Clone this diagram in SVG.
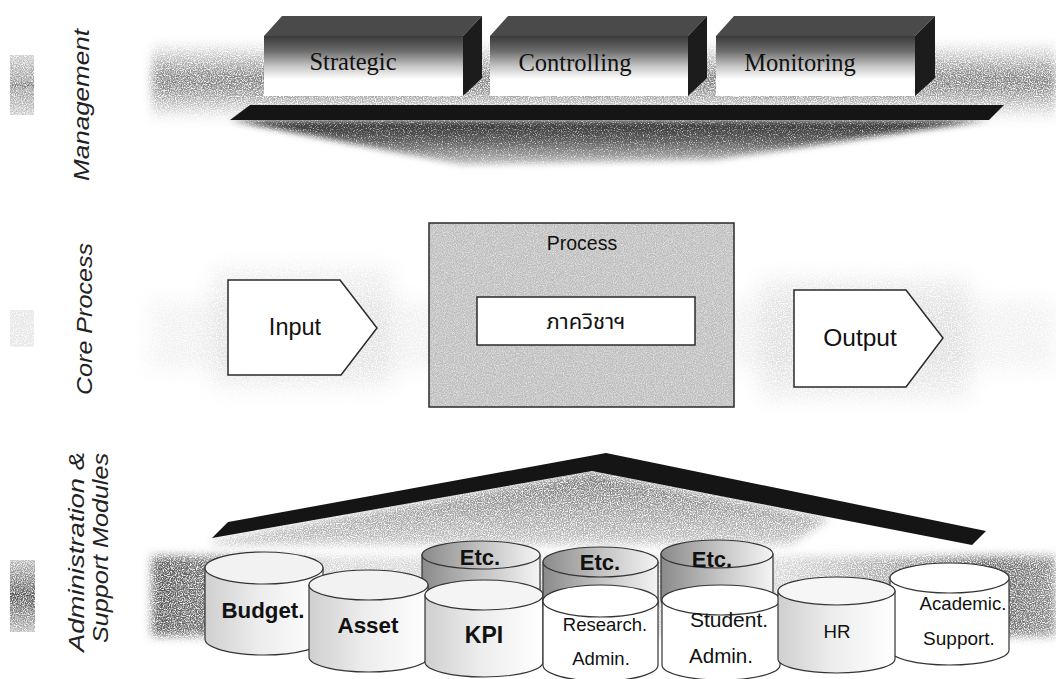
<svg xmlns="http://www.w3.org/2000/svg" width="1056" height="679" viewBox="0 0 1056 679">
<defs>
  <filter id="fuzz" filterUnits="userSpaceOnUse" x="0" y="0" width="1056" height="679">
    <feGaussianBlur in="SourceGraphic" stdDeviation="5" result="b"/>
    <feTurbulence type="fractalNoise" baseFrequency="0.85" numOctaves="2" seed="5" result="t"/>
    <feColorMatrix in="t" type="matrix" values="0 0 0 0 0  0 0 0 0 0  0 0 0 0 0  -2.6 0 0 0 2.0" result="m"/>
    <feComposite in="b" in2="m" operator="in"/>
  </filter>
  <filter id="fuzzDark" filterUnits="userSpaceOnUse" x="0" y="0" width="1056" height="679">
    <feGaussianBlur in="SourceGraphic" stdDeviation="3" result="b"/>
    <feTurbulence type="fractalNoise" baseFrequency="0.85" numOctaves="2" seed="7" result="t"/>
    <feColorMatrix in="t" type="matrix" values="0 0 0 0 0  0 0 0 0 0  0 0 0 0 0  -2.2 0 0 0 2.1" result="m"/>
    <feComposite in="b" in2="m" operator="in"/>
  </filter>
  <filter id="soft" filterUnits="userSpaceOnUse" x="0" y="0" width="1056" height="679">
    <feGaussianBlur in="SourceGraphic" stdDeviation="10" result="b"/>
    <feTurbulence type="fractalNoise" baseFrequency="0.8" numOctaves="2" seed="11" result="t"/>
    <feColorMatrix in="t" type="matrix" values="0 0 0 0 0  0 0 0 0 0  0 0 0 0 0  -2.6 0 0 0 2.0" result="m"/>
    <feComposite in="b" in2="m" operator="in"/>
  </filter>
  <filter id="grain" x="0" y="0" width="100%" height="100%">
    <feTurbulence type="fractalNoise" baseFrequency="0.9" numOctaves="2" seed="9" result="t"/>
    <feColorMatrix in="t" type="matrix" values="0 0 0 0 0  0 0 0 0 0  0 0 0 0 0  -2.4 0 0 0 1.9" result="m"/>
    <feComposite in="SourceGraphic" in2="m" operator="in"/>
  </filter>
  <linearGradient id="bandV" x1="0" y1="0" x2="0" y2="1">
    <stop offset="0" stop-color="#bbb" stop-opacity="0"/>
    <stop offset="0.3" stop-color="#a8a8a8"/>
    <stop offset="0.5" stop-color="#767676"/>
    <stop offset="0.7" stop-color="#a8a8a8"/>
    <stop offset="1" stop-color="#bbb" stop-opacity="0"/>
  </linearGradient>
  <linearGradient id="adminH" x1="0" y1="0" x2="1" y2="0">
    <stop offset="0" stop-color="#555"/>
    <stop offset="0.08" stop-color="#777"/>
    <stop offset="0.2" stop-color="#bbb" stop-opacity="0.6"/>
    <stop offset="0.7" stop-color="#bbb" stop-opacity="0.6"/>
    <stop offset="0.93" stop-color="#666"/>
    <stop offset="1" stop-color="#888"/>
  </linearGradient>
  <linearGradient id="boxFront" x1="0" y1="0" x2="0" y2="1">
    <stop offset="0" stop-color="#3a3a3a"/>
    <stop offset="0.25" stop-color="#6c6c6c"/>
    <stop offset="0.5" stop-color="#c4c4c4"/>
    <stop offset="0.72" stop-color="#fff"/>
    <stop offset="1" stop-color="#fff"/>
  </linearGradient>
  <linearGradient id="funnel" gradientUnits="userSpaceOnUse" x1="0" y1="120" x2="0" y2="166">
    <stop offset="0" stop-color="#2e2e2e"/>
    <stop offset="0.45" stop-color="#5e5e5e"/>
    <stop offset="1" stop-color="#c8c8c8"/>
  </linearGradient>
  <linearGradient id="roofShade" gradientUnits="userSpaceOnUse" x1="0" y1="470" x2="0" y2="545">
    <stop offset="0" stop-color="#707070"/>
    <stop offset="1" stop-color="#c4c4c4"/>
  </linearGradient>
  <linearGradient id="cylSide" x1="0" y1="0" x2="1" y2="0">
    <stop offset="0" stop-color="#cfcfcf"/>
    <stop offset="0.45" stop-color="#ececec"/>
    <stop offset="1" stop-color="#fff"/>
  </linearGradient>
  <linearGradient id="etcSide" x1="0" y1="0" x2="1" y2="0">
    <stop offset="0" stop-color="#8a8a8a"/>
    <stop offset="0.5" stop-color="#c2c2c2"/>
    <stop offset="1" stop-color="#f4f4f4"/>
  </linearGradient>
  <linearGradient id="markV" x1="0" y1="0" x2="0" y2="1">
    <stop offset="0" stop-color="#ccc"/>
    <stop offset="0.45" stop-color="#999"/>
    <stop offset="0.5" stop-color="#777"/>
    <stop offset="0.55" stop-color="#999"/>
    <stop offset="1" stop-color="#ccc"/>
  </linearGradient>
  <linearGradient id="markA" x1="0" y1="0" x2="0" y2="1">
    <stop offset="0" stop-color="#bbb"/>
    <stop offset="0.5" stop-color="#555"/>
    <stop offset="1" stop-color="#bbb"/>
  </linearGradient>
  <style>
    .lbl { font-family: "Liberation Sans", Arial, sans-serif; font-style: italic; font-size: 22px; fill: #222; }
    .box { font-family: "Liberation Serif", "Times New Roman", serif; font-size: 24.5px; fill: #111; text-anchor: middle; }
    .sans { font-family: "Liberation Sans", Arial, sans-serif; fill: #111; text-anchor: middle; }
    .b { font-weight: bold; }
    .edge { stroke: #2a2a2a; stroke-width: 1.5; }
    .cyl { stroke: #333; stroke-width: 1.2; }
  </style>
</defs>

<rect x="0" y="0" width="1056" height="679" fill="#fff"/>

<!-- background bands -->
<g id="backgrounds">
  <rect x="152" y="40" width="904" height="82" fill="url(#bandV)" filter="url(#fuzz)"/>
  <rect x="150" y="300" width="906" height="70" fill="#c8c8c8" opacity="0.25" filter="url(#soft)"/>
  <rect x="212" y="268" width="180" height="120" fill="#c8c8c8" opacity="0.35" filter="url(#soft)"/>
  <rect x="760" y="278" width="210" height="120" fill="#c0c0c0" opacity="0.35" filter="url(#soft)"/>
  <rect x="152" y="556" width="904" height="80" fill="url(#adminH)" filter="url(#fuzz)"/>
  <rect x="10" y="55" width="24" height="60" fill="url(#markV)" filter="url(#grain)"/>
  <rect x="10" y="310" width="24" height="37" fill="#e6e6e6" filter="url(#grain)"/>
  <rect x="10" y="560" width="25" height="72" fill="url(#markA)" filter="url(#grain)"/>
</g>

<!-- side labels -->
<g id="labels">
  <text class="lbl" transform="translate(89,105) rotate(-90)" text-anchor="middle" textLength="152" lengthAdjust="spacingAndGlyphs">Management</text>
  <text class="lbl" transform="translate(92,319) rotate(-90)" text-anchor="middle" textLength="152" lengthAdjust="spacingAndGlyphs">Core Process</text>
  <text class="lbl" transform="translate(84,552) rotate(-90)" text-anchor="middle" textLength="200" lengthAdjust="spacingAndGlyphs">Administration &amp;</text>
  <text class="lbl" transform="translate(108,548) rotate(-90)" text-anchor="middle" textLength="190" lengthAdjust="spacingAndGlyphs">Support Modules</text>
</g>

<!-- management platform -->
<g id="platform">
  <polygon points="230,120 989,120 713,160 463,165" fill="url(#funnel)" filter="url(#fuzzDark)"/>
  <polygon points="250,105 1004,105 989,120 230,120" fill="#151515"/>
</g>

<g id="strategic">
  <polygon points="264,36 282,16 482,16 463,36" fill="#4a4a4a"/>
  <polygon points="463,36 482,16 482,78 463,96" fill="#1c1c1c"/>
  <rect x="264" y="36" width="199" height="60" fill="url(#boxFront)"/>
  <text class="box" x="353" y="70">Strategic</text>
</g>
<g id="controlling">
  <polygon points="490,36 508,16 707,16 688,36" fill="#4a4a4a"/>
  <polygon points="688,36 707,16 707,78 688,96" fill="#1c1c1c"/>
  <rect x="490" y="36" width="198" height="60" fill="url(#boxFront)"/>
  <text class="box" x="575" y="71">Controlling</text>
</g>
<g id="monitoring">
  <polygon points="716,36 734,16 935,16 915,36" fill="#4a4a4a"/>
  <polygon points="915,36 935,16 935,78 915,96" fill="#1c1c1c"/>
  <rect x="716" y="36" width="199" height="60" fill="url(#boxFront)"/>
  <text class="box" x="800" y="71">Monitoring</text>
</g>

<!-- core process -->
<g id="input">
  <polygon points="228,280 340,280 377,328 341,375 228,375" fill="#fff" class="edge"/>
  <text class="sans" x="295" y="335" font-size="23.5">Input</text>
</g>
<g id="process">
  <rect x="429" y="223" width="305" height="184" fill="#e2e2e2"/>
  <rect x="429" y="223" width="305" height="184" fill="#a0a0a0" filter="url(#grain)" opacity="0.55"/>
  <rect x="429" y="223" width="305" height="184" fill="none" class="edge"/>
  <text class="sans" x="582" y="250" font-size="19.5">Process</text>
</g>
<g id="dept">
  <rect x="477" y="297" width="218" height="48" fill="#fff" class="edge"/>
  <text x="586" y="329" font-size="22" fill="#111" text-anchor="middle" font-family="'Noto Sans Thai', 'Noto Sans', 'DejaVu Sans', sans-serif">ภาควิชาฯ</text>
</g>
<g id="output">
  <polygon points="794,290 906,290 943,338 906,387 794,387" fill="#fff" class="edge"/>
  <text class="sans" x="860" y="346" font-size="24.5">Output</text>
</g>

<!-- admin roof -->
<g id="roof">
  <polygon points="212,540 592,471 830,518 790,545 212,545" fill="url(#roofShade)" filter="url(#fuzz)"/>
  <polygon points="212,538 228,522 606,453 986,531 972,545 592,471" fill="#151515"/>
</g>

<!-- cylinders -->
<g id="budget">
  <path class="cyl" d="M205,568 V639 A59,16 0 0 0 323,639 V568 Z" fill="url(#cylSide)"/>
  <ellipse class="cyl" cx="264" cy="568" rx="59" ry="16" fill="#f2f2f2"/>
  <text class="sans b" x="263" y="618" font-size="22.3">Budget.</text>
</g>
<g id="etc1">
  <path class="cyl" d="M422,555 V600 A59,14 0 0 0 540,600 V555 Z" fill="url(#etcSide)"/>
  <ellipse class="cyl" cx="481" cy="555" rx="59" ry="14" fill="url(#etcSide)"/>
  <text class="sans b" x="480" y="565" font-size="22">Etc.</text>
</g>
<g id="asset">
  <path class="cyl" d="M309,585 V657 A59.5,15 0 0 0 428,657 V585 Z" fill="url(#cylSide)"/>
  <ellipse class="cyl" cx="368.5" cy="585" rx="59.5" ry="15" fill="#f2f2f2"/>
  <text class="sans b" x="368" y="633" font-size="22.4">Asset</text>
</g>
<g id="kpi">
  <path class="cyl" d="M425,595 V662 A59,15 0 0 0 543,662 V595 Z" fill="url(#cylSide)"/>
  <ellipse class="cyl" cx="484" cy="595" rx="59" ry="15" fill="#f4f4f4"/>
  <text class="sans b" x="484" y="643" font-size="23">KPI</text>
</g>
<g id="etc2">
  <path class="cyl" d="M543,562 V605 A57.5,15 0 0 0 658,605 V562 Z" fill="url(#etcSide)"/>
  <ellipse class="cyl" cx="600.5" cy="562" rx="57.5" ry="15" fill="url(#etcSide)"/>
  <text class="sans b" x="600" y="570" font-size="22">Etc.</text>
</g>
<g id="research">
  <path class="cyl" d="M543,601 V665 A57.5,16 0 0 0 658,665 V601 Z" fill="#fff"/>
  <ellipse class="cyl" cx="600.5" cy="601" rx="57.5" ry="16" fill="#fff"/>
  <text class="sans" x="605" y="631" font-size="18.5">Research.</text>
  <text class="sans" x="601" y="665" font-size="18.5">Admin.</text>
</g>
<g id="etc3">
  <path class="cyl" d="M661,554 V600 A56,14 0 0 0 773,600 V554 Z" fill="url(#etcSide)"/>
  <ellipse class="cyl" cx="717" cy="554" rx="56" ry="14" fill="url(#etcSide)"/>
  <text class="sans b" x="712" y="567" font-size="22">Etc.</text>
</g>
<g id="student">
  <path class="cyl" d="M662,600 V665 A59,15 0 0 0 780,665 V600 Z" fill="#fff"/>
  <ellipse class="cyl" cx="721" cy="600" rx="59" ry="15" fill="#fff"/>
  <text class="sans" x="729" y="627" font-size="21">Student.</text>
  <text class="sans" x="721" y="663" font-size="20.6">Admin.</text>
</g>
<g id="academic">
  <path class="cyl" d="M890,578 V650 A59.5,15 0 0 0 1009,650 V578 Z" fill="#fff"/>
  <ellipse class="cyl" cx="949.5" cy="578" rx="59.5" ry="15" fill="#fff"/>
  <text class="sans" x="963" y="610" font-size="18.6">Academic.</text>
  <text class="sans" x="959" y="645" font-size="19">Support.</text>
</g>
<g id="hr">
  <path class="cyl" d="M778,591 V659 A58.5,14 0 0 0 895,659 V591 Z" fill="url(#cylSide)"/>
  <ellipse class="cyl" cx="836.5" cy="591" rx="58.5" ry="14" fill="#f6f6f6"/>
  <text class="sans" x="837" y="638" font-size="18.7">HR</text>
</g>

<g id="connectors"></g>
</svg>
